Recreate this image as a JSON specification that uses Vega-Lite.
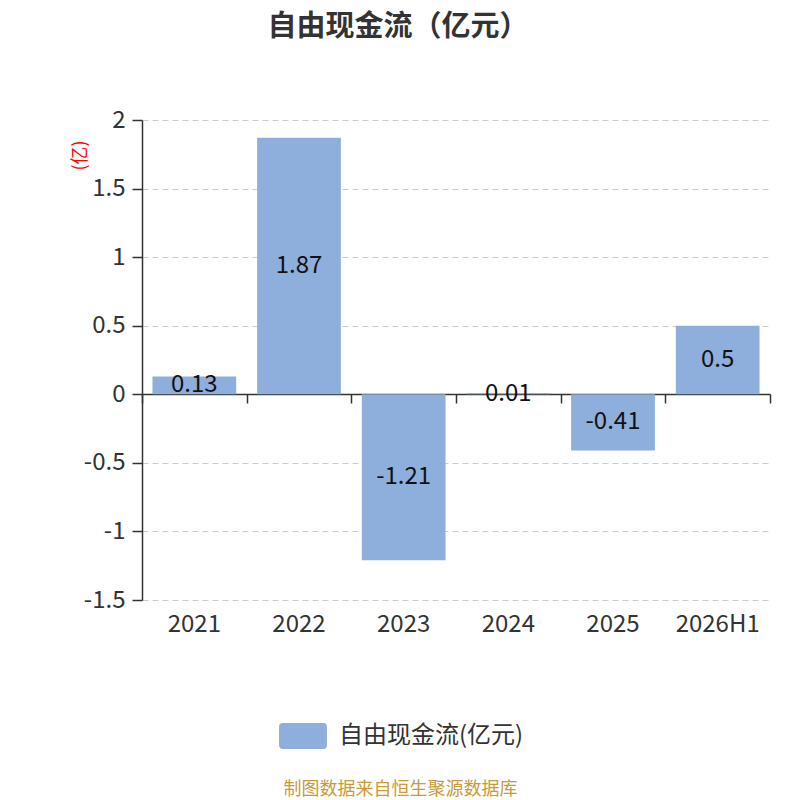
{
  "$schema": "https://vega.github.io/schema/vega-lite/v6.json",
  "width": 628,
  "height": 480,
  "autosize": "none",
  "padding": {"left": 142, "top": 120, "right": 30, "bottom": 200},
  "title": {
    "text": "自由现金流（亿元）",
    "fontSize": 29,
    "fontWeight": "bold",
    "color": "#333333",
    "font": "Noto Sans CJK SC",
    "anchor": "middle",
    "dx": -58,
    "offset": 66
  },
  "config": {
    "view": {"stroke": null},
    "font": "Noto Sans CJK SC",
    "axis": {"labelFont": "Noto Sans CJK SC", "titleFont": "Noto Sans CJK SC"},
    "legend": {"labelFont": "Noto Sans CJK SC"}
  },
  "data": {
    "values": [
      {"year": "2021", "value": 0.13},
      {"year": "2022", "value": 1.87},
      {"year": "2023", "value": -1.21},
      {"year": "2024", "value": 0.01},
      {"year": "2025", "value": -0.41},
      {"year": "2026H1", "value": 0.5}
    ]
  },
  "layer": [
    {
      "mark": {"type": "bar", "width": {"band": 0.8}},
      "encoding": {
        "x": {
          "field": "year",
          "type": "nominal",
          "sort": null,
          "scale": {"paddingInner": 0, "paddingOuter": 0},
          "axis": {
            "orient": "bottom",
            "domain": false,
            "ticks": false,
            "grid": false,
            "labelAngle": 0,
            "labelFontSize": 24,
            "labelColor": "#333333",
            "labelPadding": 12,
            "title": "制图数据来自恒生聚源数据库",
            "titleColor": "#c89a3a",
            "titleFontSize": 18,
            "titleFontWeight": "normal",
            "titleX": 258,
            "titleY": 189,
            "titleBaseline": "middle",
            "titleAlign": "center"
          }
        },
        "y": {
          "field": "value",
          "type": "quantitative",
          "scale": {"domain": [-1.5, 2], "nice": false, "zero": false},
          "axis": {
            "values": [-1.5, -1, -0.5, 0, 0.5, 1, 1.5, 2],
            "labelExpr": "'' + datum.value",
            "grid": true,
            "gridColor": "#cccccc",
            "gridDash": [6, 4],
            "domainColor": "#333333",
            "domainWidth": 1.5,
            "tickColor": "#333333",
            "tickWidth": 1.5,
            "tickSize": 10,
            "labelFontSize": 24,
            "labelColor": "#333333",
            "labelPadding": 7,
            "title": "(亿)",
            "titleColor": "#ff0000",
            "titleFontSize": 18,
            "titleFontWeight": "normal",
            "titleX": -62,
            "titleY": 35,
            "titleAngle": -90,
            "titleAlign": "center",
            "titleBaseline": "middle"
          }
        },
        "color": {
          "datum": "自由现金流(亿元)",
          "type": "nominal",
          "scale": {"range": ["#8eaedb"]},
          "legend": {
            "title": null,
            "orient": "none",
            "legendX": 135,
            "legendY": 590,
            "symbolType": "M -0.78 -0.5 L 0.78 -0.5 Q 0.92 -0.5 0.92 -0.36 L 0.92 0.36 Q 0.92 0.5 0.78 0.5 L -0.78 0.5 Q -0.92 0.5 -0.92 0.36 L -0.92 -0.36 Q -0.92 -0.5 -0.78 -0.5 Z",
            "symbolSize": 2704,
            "symbolStrokeWidth": 0,
            "symbolOpacity": 1,
            "labelFontSize": 24,
            "labelColor": "#333333",
            "labelOffset": 10,
            "labelLimit": 400
          }
        }
      }
    },
    {
      "mark": {"type": "text", "fontSize": 24, "color": "#111111", "baseline": "middle"},
      "encoding": {
        "x": {
          "field": "year",
          "type": "nominal",
          "sort": null,
          "axis": {
            "orient": "bottom",
            "offset": -206,
            "labels": false,
            "domain": true,
            "domainColor": "#333333",
            "domainWidth": 1.5,
            "ticks": true,
            "tickBand": "extent",
            "tickSize": 9,
            "tickWidth": 1.5,
            "tickColor": "#333333",
            "grid": false,
            "title": null
          }
        },
        "y": {"field": "value", "type": "quantitative", "stack": "zero", "bandPosition": 0.5},
        "text": {"field": "value", "type": "nominal"}
      }
    }
  ],
  "resolve": {"axis": {"x": "independent"}}
}
